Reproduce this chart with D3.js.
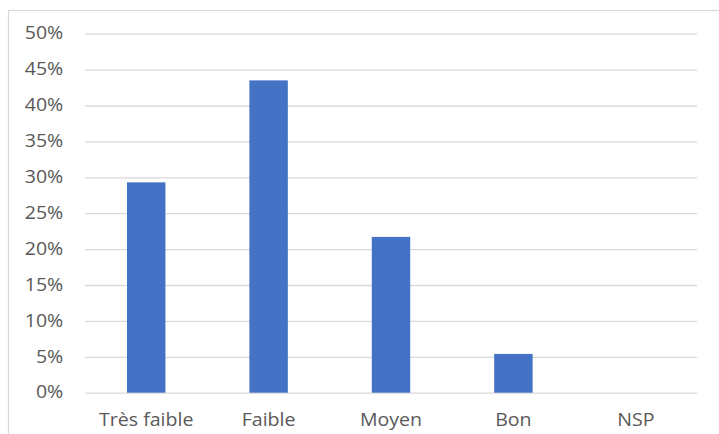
<!DOCTYPE html>
<html>
<head>
<meta charset="utf-8">
<script src="https://cdn.jsdelivr.net/npm/d3@7"></script>
<style>
  html, body { margin: 0; padding: 0; background: #fff; }
  svg { display: block; }
</style>
</head>
<body>
<svg id="chart" width="719" height="434"></svg>
<script>
const categories = ["Très faible", "Faible", "Moyen", "Bon", "NSP"];
const values = [0.293, 0.435, 0.217, 0.054, 0];
const tickValues = [0, 0.05, 0.10, 0.15, 0.20, 0.25, 0.30, 0.35, 0.40, 0.45, 0.50];

(function () {
const svg = d3.select("#chart");
const W = 719, H = 434;
const mLeft = 85, mRight = 697, mTop = 33.7, mBottom = 392.7;
const font = "'Open Sans', 'Noto Sans', sans-serif";
const fs = 17.5, sx = 1.12;

// chart frame
svg.append("rect")
  .attr("x", 8.5).attr("y", 10.5)
  .attr("width", W + 10).attr("height", H + 10)
  .attr("fill", "#fff").attr("stroke", "#d9d9d9").attr("stroke-width", 1.2);

const x = d3.scaleBand().domain(categories).range([mLeft, mRight]).paddingInner(0.686).paddingOuter(0.343);
const y = d3.scaleLinear().domain([0, 0.5]).range([mBottom, mTop]);

// gridlines
const grid = d3.axisLeft(y).tickValues(tickValues).tickSize(-(mRight - mLeft)).tickFormat("");
svg.append("g").attr("transform", `translate(${mLeft},0)`).call(grid)
  .call(g => g.select(".domain").remove())
  .call(g => g.selectAll("line").attr("stroke", "#d9d9d9").attr("stroke-width", 1.3));

// y labels
const yAxis = d3.axisLeft(y).tickValues(tickValues).tickSize(0).tickPadding(0).tickFormat(d3.format(".0%"));
svg.append("g").attr("transform", `translate(${mLeft},0)`).call(yAxis)
  .call(g => g.select(".domain").remove())
  .call(g => g.selectAll("text")
    .attr("x", 0).attr("dy", "0.3em")
    .attr("transform", `translate(-21.7,0) scale(${sx},1)`)
    .attr("fill", "#595959").attr("font-size", fs).attr("font-family", font));

// bars
svg.append("g").selectAll("rect").data(values).join("rect")
  .attr("x", (d, i) => x(categories[i]))
  .attr("width", x.bandwidth())
  .attr("y", d => y(d))
  .attr("height", d => mBottom - y(d))
  .attr("fill", "#4472c4");

// x labels
const xAxis = d3.axisBottom(x).tickSize(0).tickPadding(0);
svg.append("g").attr("transform", `translate(0,${mBottom})`).call(xAxis)
  .call(g => g.select(".domain").remove())
  .call(g => g.selectAll("text")
    .attr("y", 0).attr("dy", 0)
    .attr("transform", `translate(0,33.3) scale(${sx},1)`)
    .attr("fill", "#595959").attr("font-size", fs).attr("font-family", font));
})();
</script>
</body>
</html>
